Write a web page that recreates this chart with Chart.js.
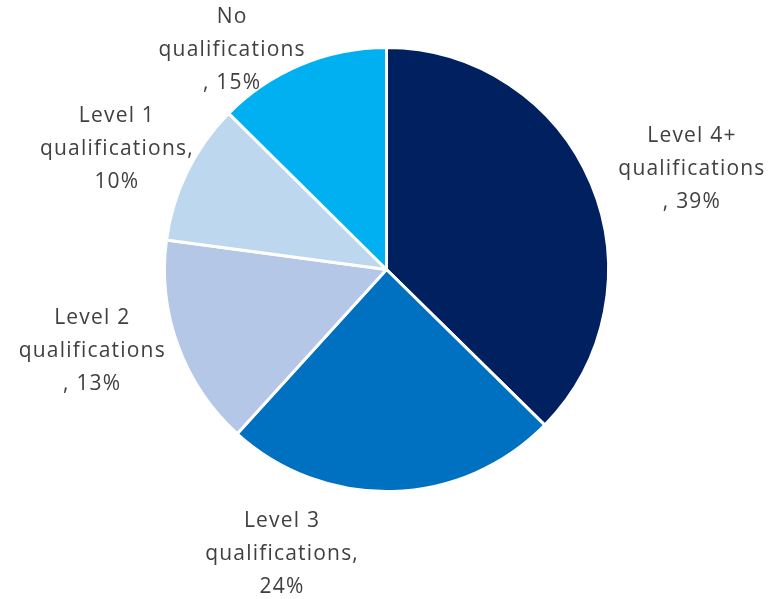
<!DOCTYPE html>
<html>
<head>
<meta charset="utf-8">
<script src="https://cdn.jsdelivr.net/npm/chart.js@4.4.0/dist/chart.umd.min.js"></script>
<style>
    html, body { margin: 0; padding: 0; background: #ffffff; }
    #wrap { width: 781px; height: 599px; }
</style>
</head>
<body>
<div id="wrap"><canvas id="myChartQualifications"></canvas></div>
<script>
//DATA
const categories = ['Level 4+ qualifications', 'Level 3 qualifications', 'Level 2 qualifications', 'Level 1 qualifications', 'No qualifications'];
// slice sizes as drawn in the picture
const sliceValues = [37.4, 24.4, 15.4, 10.3, 12.6];
// data label text as printed on the picture
const labelLines = [
    ['Level 4+', 'qualifications', ', 39%'],
    ['Level 3', 'qualifications,', '24%'],
    ['Level 2', 'qualifications', ', 13%'],
    ['Level 1', 'qualifications,', '10%'],
    ['No', 'qualifications', ', 15%']
];
const sliceColors = ['#002060', '#0070C0', '#B4C7E7', '#BDD7EE', '#00B0F0'];

// label placement around each slice: [angle shift from slice middle in degrees, distance / radius]
const labelPlacement = [[4.5, 1.446], [21.9, 1.365], [4.6, 1.378], [-2.1, 1.333], [-12.5, 1.212]];


//DRAW DATA LABELS OUTSIDE THE PIE
const outsideLabels = {
    id: 'outsideLabels',
    afterDatasetsDraw(chart) {
        const ctx = chart.ctx;
        const meta = chart.getDatasetMeta(0);
        ctx.save();
        ctx.font = '21px "Open Sans"';
        ctx.fillStyle = '#404040';
        ctx.textAlign = 'center';
        ctx.textBaseline = 'middle';
        if ('letterSpacing' in ctx) ctx.letterSpacing = '1.2px';
        meta.data.forEach((arc, i) => {
            const mid = (arc.startAngle + arc.endAngle) / 2 + labelPlacement[i][0] * Math.PI / 180;
            const dist = arc.outerRadius * labelPlacement[i][1];
            const cx = arc.x + Math.cos(mid) * dist;
            const cy = arc.y + Math.sin(mid) * dist;
            const lines = labelLines[i];
            const lineHeight = 33;
            for (let j = 0; j < lines.length; j++) {
                ctx.fillText(lines[j], cx + 0.6, cy + (j - (lines.length - 1) / 2) * lineHeight);
            }
        });
        ctx.restore();
    }
};

const ctx = document.getElementById('myChartQualifications');

new Chart(ctx, {
    type: 'pie',
    data: {
        labels: categories,
        datasets: [{
            data: sliceValues,
            backgroundColor: sliceColors,
            borderColor: '#ffffff',
            borderWidth: 3
        }]
    },
    options: {
        responsive: true,
        maintainAspectRatio: false,
        animation: false,
        layout: {
            padding: { top: 46, bottom: 106, left: 163, right: 171 }
        },
        plugins: {
            legend: { display: false },
            tooltip: { enabled: false }
        }
    },
    plugins: [outsideLabels]
});
</script>
</body>
</html>
